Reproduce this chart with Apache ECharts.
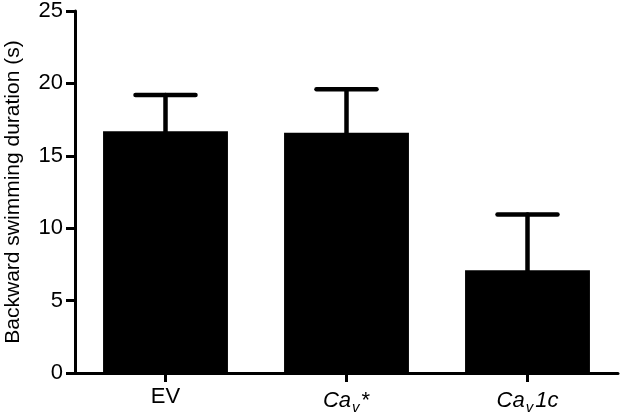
<!DOCTYPE html>
<html>
<head>
<meta charset="utf-8">
<script src="https://cdn.jsdelivr.net/npm/echarts@6/dist/echarts.min.js"></script>
<style>html,body{margin:0;padding:0;background:#fff}#c{width:624px;height:418px}</style>
</head>
<body>
<div id="c"></div>
<script>
var categories = ['EV', 'Cav*', 'Cav1c'];
var means = [16.7, 16.6, 7.1];
var sem = [2.5, 3.0, 3.85];
var yTicks = [0, 5, 10, 15, 20, 25];

var FONT = 'Liberation Sans, Arial, sans-serif';
var chart = echarts.init(document.getElementById('c'), null, {renderer: 'canvas'});

var errData = categories.map(function (c, i) { return [i, means[i], means[i] + sem[i]]; });

var labelMap = {
  'EV': 'EV',
  'Cav*': '{i|Ca}{s|v}{n|*}',
  'Cav1c': '{i|Ca}{s|v}{i|1c}'
};

chart.setOption({
  animation: false,
  grid: {left: 75, right: 6, top: 11, bottom: 45, containLabel: false, outerBoundsMode: 'none'},
  xAxis: {
    type: 'category',
    data: categories,
    axisLine: {lineStyle: {color: '#000', width: 3}},
    axisTick: {show: true, alignWithLabel: true, length: 9, lineStyle: {color: '#000', width: 3}},
    axisLabel: {
      interval: 0,
      color: '#000', fontSize: 22, fontFamily: FONT, margin: 13,
      formatter: function (v) { return labelMap[v]; },
      rich: {
        i: {fontStyle: 'italic', fontSize: 22, fontFamily: FONT, color: '#000'},
        s: {fontStyle: 'italic', fontSize: 15, fontFamily: FONT, color: '#000', verticalAlign: 'bottom', padding: [14, 2, 0, 1]},
        n: {fontSize: 22, fontFamily: FONT, color: '#000'}
      }
    }
  },
  yAxis: {
    type: 'value',
    min: 0, max: 25, interval: 5,
    name: 'Backward swimming duration (s)',
    nameLocation: 'middle',
    nameGap: 51,
    nameTextStyle: {color: '#000', fontSize: 21, fontFamily: FONT},
    axisLine: {show: true, lineStyle: {color: '#000', width: 3}},
    axisTick: {show: true, length: 9, lineStyle: {color: '#000', width: 3}},
    axisLabel: {color: '#000', fontSize: 22, fontFamily: FONT, margin: 12,
      formatter: function (v) { return yTicks.indexOf(v) >= 0 ? String(v) : ''; }},
    splitLine: {show: false}
  },
  series: [
    {
      type: 'bar',
      data: means,
      barWidth: '69%',
      itemStyle: {color: '#000'},
      z: 2
    },
    {
      type: 'custom',
      data: errData,
      z: 3,
      renderItem: function (params, api) {
        var x = api.value(0);
        var p0 = api.coord([x, api.value(1)]);
        var p1 = api.coord([x, api.value(2)]);
        var half = 30;
        var style = {stroke: '#000', lineWidth: 4.5, lineCap: 'round'};
        return {
          type: 'group',
          children: [
            {type: 'line', shape: {x1: p0[0], y1: p0[1], x2: p1[0], y2: p1[1]}, style: style},
            {type: 'line', shape: {x1: p1[0] - half, y1: p1[1], x2: p1[0] + half, y2: p1[1]}, style: style}
          ]
        };
      }
    }
  ]
});
</script>
</body>
</html>
